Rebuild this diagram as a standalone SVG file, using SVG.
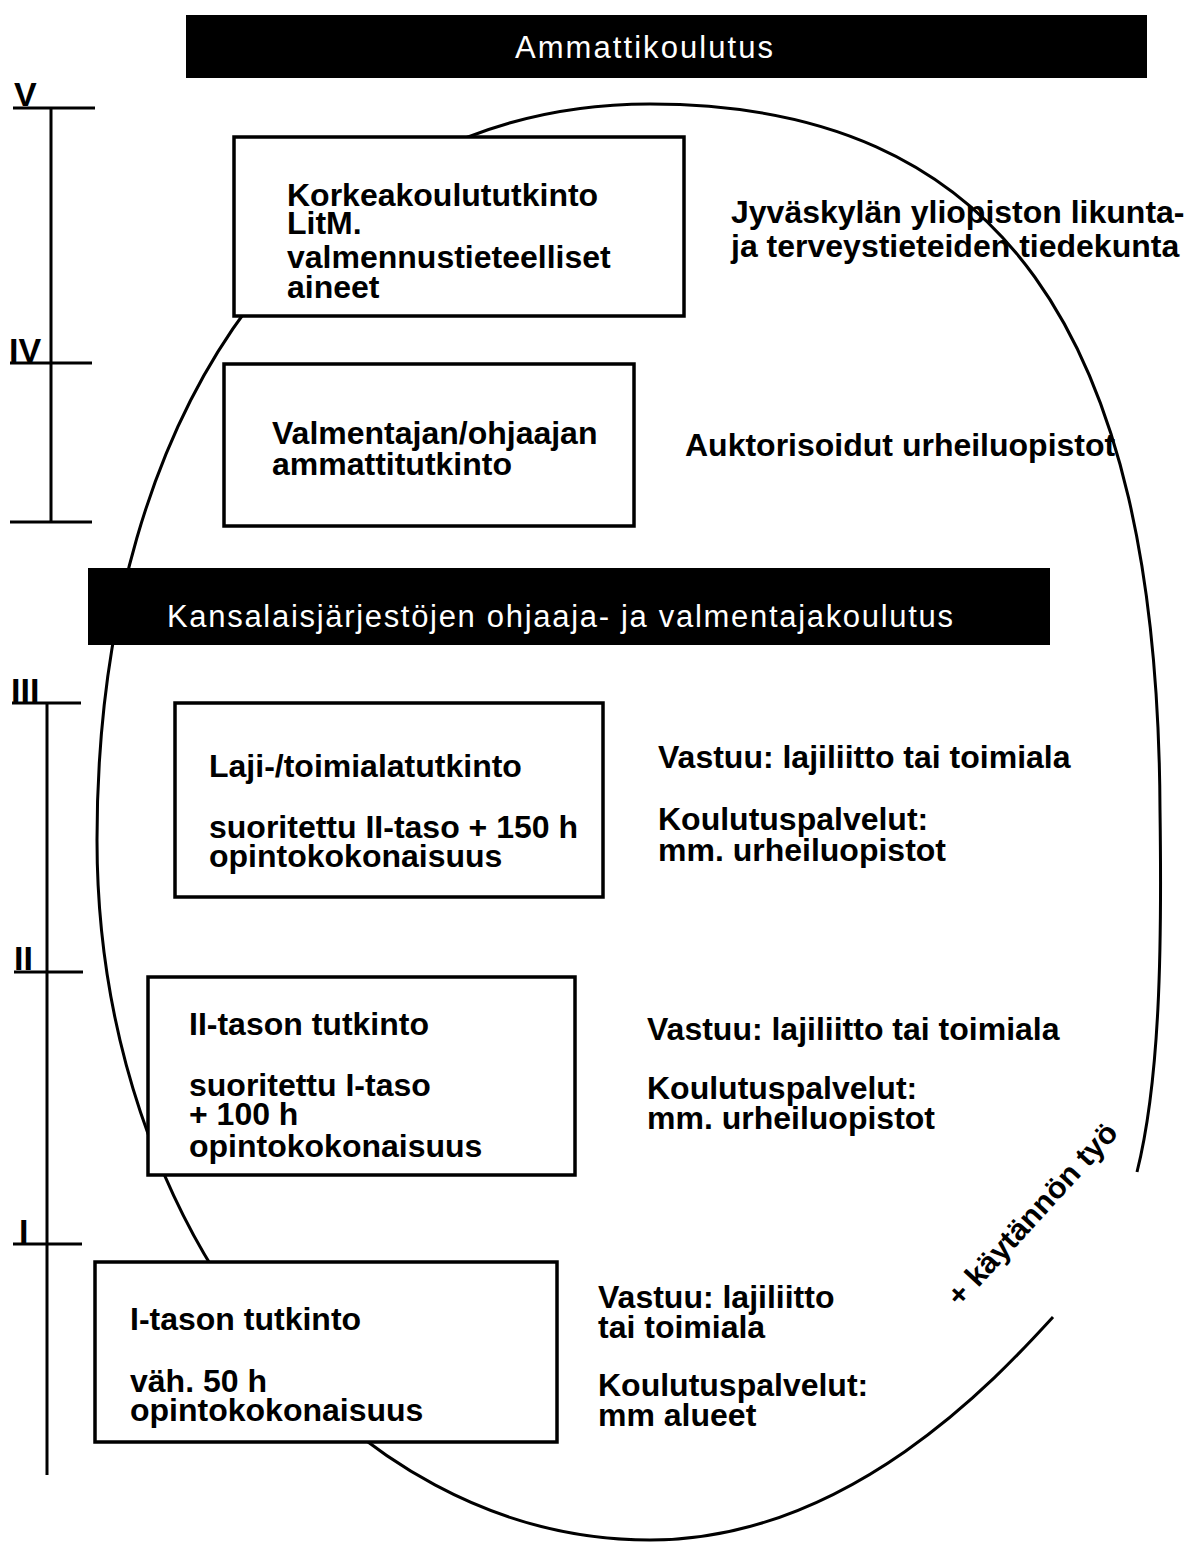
<svg xmlns="http://www.w3.org/2000/svg" width="1203" height="1542" viewBox="0 0 1203 1542">
<style>
.bg{fill:#fff}
.bar{fill:#000}
.bart{fill:#fff;font-family:"Liberation Sans Narrow","Liberation Sans",Arial,sans-serif;font-size:31px}
.box{fill:#fff;stroke:#000;stroke-width:3.5}
.t{fill:#000;font-family:"Liberation Sans",Arial,sans-serif;font-size:32px;font-weight:bold}
.num{fill:#000;font-family:"Liberation Sans",Arial,sans-serif;font-size:34px;font-weight:bold}
.ax{stroke:#000;stroke-width:3;fill:none}
.ell{stroke:#000;stroke-width:3;fill:none}
</style>
<rect class="bg" x="0" y="0" width="1203" height="1542"/>

<g id="ellipse">
<path class="ell" d="M 1053 1317 C 999 1376 850 1540 650 1540 C 345 1540 97 1226 97 840 C 97 398 318 104 650 104 C 998 104 1158 330 1160 810 C 1162 950 1160 1080 1137 1172"/>
</g>

<g id="connectors">
<g id="scale-upper">
<line class="ax" x1="51" y1="108" x2="51" y2="522"/>
<line class="ax" x1="13" y1="108" x2="95" y2="108"/>
<line class="ax" x1="10" y1="363" x2="92" y2="363"/>
<line class="ax" x1="10" y1="522" x2="92" y2="522"/>
</g>
<g id="scale-lower">
<line class="ax" x1="47" y1="703" x2="47" y2="1475"/>
<line class="ax" x1="12" y1="703" x2="81" y2="703"/>
<line class="ax" x1="14" y1="972" x2="83" y2="972"/>
<line class="ax" x1="13" y1="1244" x2="82" y2="1244"/>
</g>
</g>

<g id="levels">
<text class="num" x="14" y="106">V</text>
<text class="num" x="9" y="362">IV</text>
<text class="num" x="11" y="702">III</text>
<text class="num" x="14" y="970">II</text>
<text class="num" x="19" y="1243">I</text>
</g>

<g id="header-ammattikoulutus">
<rect class="bar" x="186" y="15" width="961" height="63"/>
<text class="bart" x="515" y="58" textLength="258" lengthAdjust="spacing">Ammattikoulutus</text>
</g>

<g id="header-kansalaisjarjestot">
<rect class="bar" x="88" y="568" width="962" height="77"/>
<text class="bart" x="167" y="627" textLength="786" lengthAdjust="spacing">Kansalaisjärjestöjen ohjaaja- ja valmentajakoulutus</text>
</g>

<g id="node-korkeakoulu">
<rect class="box" x="234" y="137" width="450" height="179"/>
<text class="t"><tspan x="287" y="206">Korkeakoulututkinto</tspan><tspan x="287" y="234">LitM.</tspan><tspan x="287" y="268">valmennustieteelliset</tspan><tspan x="287" y="298">aineet</tspan></text>
</g>

<g id="label-jyvaskyla">
<text class="t"><tspan x="731" y="223">Jyväskylän yliopiston likunta-</tspan><tspan x="731" y="257">ja terveystieteiden tiedekunta</tspan></text>
</g>

<g id="node-ammattitutkinto">
<rect class="box" x="224" y="364" width="410" height="162"/>
<text class="t"><tspan x="272" y="444">Valmentajan/ohjaajan</tspan><tspan x="272" y="475">ammattitutkinto</tspan></text>
</g>

<g id="label-urheiluopistot">
<text class="t" x="685" y="456">Auktorisoidut urheiluopistot</text>
</g>

<g id="node-laji">
<rect class="box" x="175" y="703" width="428" height="194"/>
<text class="t"><tspan x="209" y="777">Laji-/toimialatutkinto</tspan><tspan x="209" y="838">suoritettu II-taso + 150 h</tspan><tspan x="209" y="867">opintokokonaisuus</tspan></text>
</g>

<g id="label-laji">
<text class="t"><tspan x="658" y="768">Vastuu: lajiliitto tai toimiala</tspan><tspan x="658" y="830">Koulutuspalvelut:</tspan><tspan x="658" y="861">mm. urheiluopistot</tspan></text>
</g>

<g id="node-ii-taso">
<rect class="box" x="148" y="977" width="427" height="198"/>
<text class="t"><tspan x="189" y="1035">II-tason tutkinto</tspan><tspan x="189" y="1096">suoritettu I-taso</tspan><tspan x="189" y="1125">+ 100 h</tspan><tspan x="189" y="1157">opintokokonaisuus</tspan></text>
</g>

<g id="label-ii-taso">
<text class="t"><tspan x="647" y="1040">Vastuu: lajiliitto tai toimiala</tspan><tspan x="647" y="1099">Koulutuspalvelut:</tspan><tspan x="647" y="1129">mm. urheiluopistot</tspan></text>
</g>

<g id="node-i-taso">
<rect class="box" x="95" y="1262" width="462" height="180"/>
<text class="t"><tspan x="130" y="1330">I-tason tutkinto</tspan><tspan x="130" y="1392">väh. 50 h</tspan><tspan x="130" y="1421">opintokokonaisuus</tspan></text>
</g>

<g id="label-i-taso">
<text class="t"><tspan x="598" y="1308">Vastuu: lajiliitto</tspan><tspan x="598" y="1338">tai toimiala</tspan><tspan x="598" y="1396">Koulutuspalvelut:</tspan><tspan x="598" y="1426">mm alueet</tspan></text>
</g>

<g id="label-kaytannon-tyo">
<text class="t" style="font-size:30px" x="0" y="0" transform="translate(960 1308) rotate(-47.5)" textLength="236" lengthAdjust="spacingAndGlyphs">+ käytännön työ</text>
</g>
</svg>
